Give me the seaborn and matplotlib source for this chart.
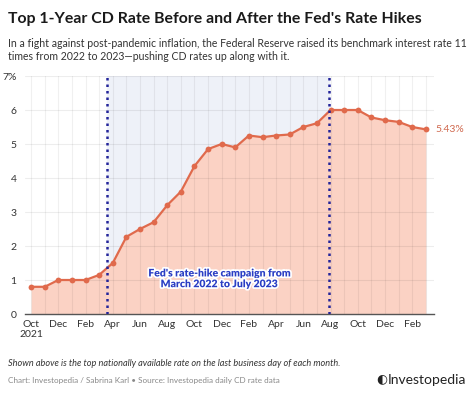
import matplotlib
matplotlib.use("Agg")
import matplotlib.pyplot as plt
import matplotlib.patheffects as pe
import numpy as np
import pandas as pd
import seaborn as sns

# Top 1-year CD rate, last business day of each month, Oct 2021 - Mar 2024
months = ["Oct", "Nov", "Dec", "Jan", "Feb", "Mar", "Apr", "May", "Jun", "Jul", "Aug", "Sep",
          "Oct", "Nov", "Dec", "Jan", "Feb", "Mar", "Apr", "May", "Jun", "Jul", "Aug", "Sep",
          "Oct", "Nov", "Dec", "Jan", "Feb", "Mar"]
rates = [0.80, 0.80, 1.00, 1.00, 1.00, 1.15, 1.50, 2.27, 2.50, 2.70, 3.20, 3.60,
         4.35, 4.85, 5.00, 4.90, 5.25, 5.20, 5.25, 5.28, 5.50, 5.61, 6.00, 6.00,
         6.00, 5.78, 5.70, 5.65, 5.50, 5.43]
hike_start = 5.6   # mid-March 2022
hike_end = 21.9    # end of July 2023

df = pd.DataFrame({"idx": np.arange(len(rates)), "month": months, "rate": rates})

sns.set_style("white")
plt.rcParams["font.family"] = ["Lato", "DejaVu Sans"]

line_c = "#e06a4c"
fill_c = "#fbd2c4"
navy = "#23249a"

fig = plt.figure(figsize=(4.74, 3.97), dpi=100)
ax = fig.add_axes([25 / 474, 1 - 314 / 397, (434 - 25) / 474, (314 - 76) / 397])

ax.axvspan(hike_start, hike_end, color="#eef1f8", zorder=0)
ax.fill_between(df["idx"], df["rate"], 0, color=fill_c, zorder=1, linewidth=0)
for i in range(len(rates)):
    ax.axvline(i, color="#000000", alpha=0.06, lw=0.8, zorder=1.5)
for v in range(1, 8):
    ax.axhline(v, color="#000000", alpha=0.07, lw=0.8, zorder=1.5)
sns.lineplot(data=df, x="idx", y="rate", ax=ax, color=line_c, lw=1.6,
             marker="o", markersize=4.2, markeredgewidth=0, zorder=3)
for xv in (hike_start, hike_end):
    ax.axvline(xv, color=navy, ls=(0, (1, 1.6)), lw=1.8, zorder=4)

ax.text(df["idx"].iloc[-1] + 0.7, rates[-1], f"{rates[-1]:.2f}%", color="#d0694f",
        fontsize=7.5, va="center", ha="left", clip_on=False)

ax.text(13.8, 1.02, "Fed's rate-hike campaign from\nMarch 2022 to July 2023", color="#2a3ec4",
        fontsize=7.5, fontweight="heavy", ha="center", va="center", linespacing=1.25, zorder=5,
        path_effects=[pe.withStroke(linewidth=2.5, foreground="white")])

ax.set_xlim(-0.45, 29.6)
ax.set_ylim(0, 7)
ax.set_yticks(range(8))
ax.set_yticklabels([str(v) if v < 7 else "7%" for v in range(8)])
xt = list(range(0, len(months), 2))
ax.set_xticks(xt)
ax.set_xticklabels([months[i] + ("\n2021" if i == 0 else "") for i in xt])
ax.tick_params(axis="both", length=0, labelsize=7.5, colors="#333333")
ax.tick_params(axis="y", pad=6)
ax.tick_params(axis="x", pad=4)
ax.set_xlabel("")
ax.set_ylabel("")
for s in ("top", "right", "left"):
    ax.spines[s].set_visible(False)
ax.spines["bottom"].set_color("#555555")
ax.spines["bottom"].set_linewidth(1.0)

fig.text(8 / 474, 1 - 19 / 397, "Top 1-Year CD Rate Before and After the Fed's Rate Hikes",
         fontsize=11.4, fontweight="bold", color="#1a1a1a", va="center", ha="left")
fig.text(8 / 474, 1 - 50 / 397,
         "In a fight against post-pandemic inflation, the Federal Reserve raised its benchmark interest rate 11\n"
         "times from 2022 to 2023\u2014pushing CD rates up along with it.",
         fontsize=7.6, color="#333333", va="center", ha="left", linespacing=1.3)
fig.text(8 / 474, 1 - 363 / 397,
         "Shown above is the top nationally available rate on the last business day of each month.",
         fontsize=6.6, style="italic", color="#333333", va="center", ha="left")
fig.text(8 / 474, 1 - 381 / 397,
         "Chart: Investopedia / Sabrina Karl \u2022 Source: Investopedia daily CD rate data",
         fontsize=5.9, color="#888888", va="center", ha="left")
fig.text(466 / 474, 1 - 380 / 397, "Investopedia", fontsize=10, color="#222222",
         va="center", ha="right")
fig.text(382 / 474, 1 - 379 / 397, "\u25d0", fontsize=9, color="#222222",
         va="center", ha="center", family="DejaVu Sans")

fig.savefig("out.png", dpi=100)
